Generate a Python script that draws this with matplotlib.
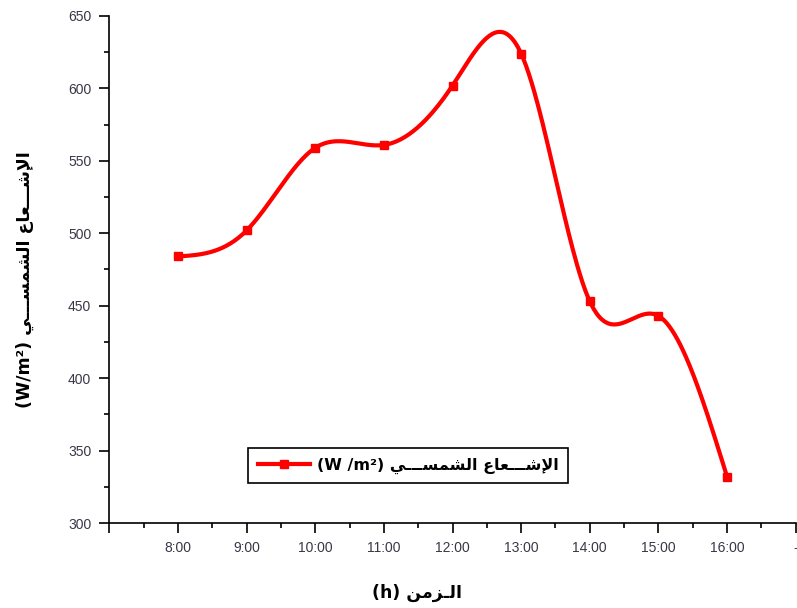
import numpy as np
import matplotlib
matplotlib.use('Agg')
import matplotlib.pyplot as plt
from matplotlib.ticker import MultipleLocator, FixedLocator

hours = [8, 9, 10, 11, 12, 13, 14, 15, 16]
irradiance = [484, 502, 559, 561, 602, 624, 453, 443, 332]
tick_hours = [7, 8, 9, 10, 11, 12, 13, 14, 15, 16, 17]
tick_labels = ['', '8:00', '9:00', '10:00', '11:00', '12:00', '13:00', '14:00', '15:00', '16:00', '-']

# arabic presentation forms: isolated, final, initial, medial
FORMS = {
    'ا': (0xFE8D, 0xFE8E, None, None),
    'إ': (0xFE87, 0xFE88, None, None),
    'ز': (0xFEAF, 0xFEB0, None, None),
    'ل': (0xFEDD, 0xFEDE, 0xFEDF, 0xFEE0),
    'ش': (0xFEB5, 0xFEB6, 0xFEB7, 0xFEB8),
    'ع': (0xFEC9, 0xFECA, 0xFECB, 0xFECC),
    'م': (0xFEE1, 0xFEE2, 0xFEE3, 0xFEE4),
    'س': (0xFEB1, 0xFEB2, 0xFEB3, 0xFEB4),
    'ي': (0xFEF1, 0xFEF2, 0xFEF3, 0xFEF4),
    'ن': (0xFEE5, 0xFEE6, 0xFEE7, 0xFEE8),
    'ـ': (0x640, 0x640, 0x640, 0x640),
}
LAM_ALEF = {'ا': (0xFEFB, 0xFEFC), 'إ': (0xFEF9, 0xFEFA)}


def joins_forward(c):
    return c in FORMS and FORMS[c][2] is not None


def shape(text):
    out = []
    i = 0
    n = len(text)
    while i < n:
        c = text[i]
        if c not in FORMS:
            out.append(c)
            i += 1
            continue
        jp = i > 0 and joins_forward(text[i - 1])
        if c == 'ل' and i + 1 < n and text[i + 1] in LAM_ALEF:
            f = LAM_ALEF[text[i + 1]]
            out.append(chr(f[1] if jp else f[0]))
            i += 2
            continue
        jn = FORMS[c][2] is not None and i + 1 < n and text[i + 1] in FORMS
        iso, fin, ini, med = FORMS[c]
        code = med if (jp and jn) else fin if jp else ini if jn else iso
        out.append(chr(code))
        i += 1
    return ''.join(reversed(out))


def natural_spline(x, y, xs):
    x = np.asarray(x, float)
    y = np.asarray(y, float)
    n = len(x)
    h = np.diff(x)
    A = np.zeros((n, n))
    b = np.zeros(n)
    A[0, 0] = A[-1, -1] = 1
    for i in range(1, n - 1):
        A[i, i - 1] = h[i - 1]
        A[i, i] = 2 * (h[i - 1] + h[i])
        A[i, i + 1] = h[i]
        b[i] = 3 * ((y[i + 1] - y[i]) / h[i] - (y[i] - y[i - 1]) / h[i - 1])
    c = np.linalg.solve(A, b)
    ys = np.empty_like(xs)
    for k, xv in enumerate(xs):
        i = min(max(np.searchsorted(x, xv) - 1, 0), n - 2)
        d = xv - x[i]
        bi = (y[i + 1] - y[i]) / h[i] - h[i] * (2 * c[i] + c[i + 1]) / 3
        di = (c[i + 1] - c[i]) / (3 * h[i])
        ys[k] = y[i] + bi * d + c[i] * d ** 2 + di * d ** 3
    return ys


plt.rcParams['font.family'] = ['Liberation Sans', 'DejaVu Sans']

fig = plt.figure(figsize=(7.97, 6.08), dpi=100)
ax = fig.add_axes([0.1373, 0.1398, 0.861, 0.8339])

xs = np.linspace(hours[0], hours[-1], 400)
ax.plot(xs, natural_spline(hours, irradiance, xs), color='red', lw=3, zorder=2)
ax.plot(hours, irradiance, 's', color='red', ms=6, zorder=3)
ax.plot([], [], '-s', color='red', lw=3, ms=6,
        label='(W /m²) ' + shape('الإشـــعاع الشمســـي'))

ax.set_xlim(7, 17)
ax.set_ylim(300, 650)
ax.xaxis.set_major_locator(FixedLocator(tick_hours))
ax.set_xticklabels(tick_labels)
ax.xaxis.set_minor_locator(MultipleLocator(0.5))
ax.yaxis.set_major_locator(MultipleLocator(50))
ax.yaxis.set_minor_locator(MultipleLocator(25))

ax.spines['top'].set_visible(False)
ax.spines['right'].set_visible(False)
for s in ['left', 'bottom']:
    ax.spines[s].set_linewidth(1.2)
ax.tick_params(which='major', direction='out', length=7, width=1.2,
               labelsize=10, labelcolor='#383848', pad=6)
ax.tick_params(which='minor', direction='out', length=3.5, width=1.2)

ax.set_ylabel('(W/m²) ' + shape('الإشـــعاع الشمســـي'),
              fontsize=12.5, fontweight='bold', family=['DejaVu Sans'])
ax.yaxis.set_label_coords(-0.11, 0.48)
ax.set_xlabel('(h) ' + shape('الـزمن'), fontsize=12.5, fontweight='bold',
              family=['DejaVu Sans'])
ax.xaxis.set_label_coords(0.448, -0.12)

leg = ax.legend(loc='upper left', bbox_to_anchor=(0.202, 0.148), borderaxespad=0,
                fancybox=False, edgecolor='black', framealpha=1,
                prop={'family': ['DejaVu Sans'], 'weight': 'bold', 'size': 11.5},
                handlelength=3.3, borderpad=0.6, handletextpad=0.4)
leg.get_frame().set_linewidth(1.2)

fig.savefig('out.png', dpi=100)
